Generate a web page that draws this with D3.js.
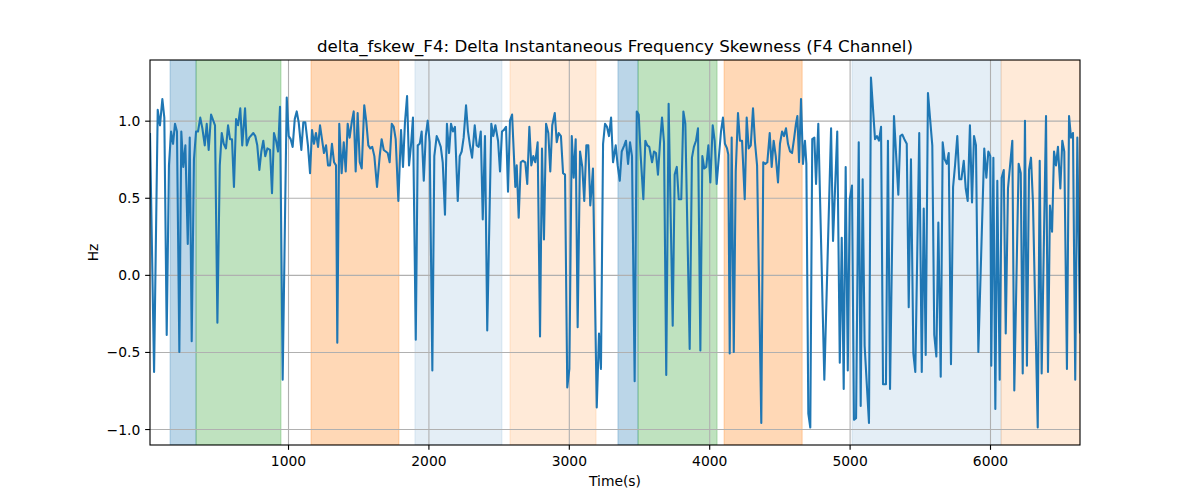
<!DOCTYPE html>
<html>
<head>
<meta charset="utf-8">
<script src="https://cdn.jsdelivr.net/npm/d3@7"></script>
<style>
  html, body { margin: 0; padding: 0; background: #ffffff; }
  svg { display: block; }
  text { font-family: "DejaVu Sans", sans-serif; fill: #000; }
</style>
</head>
<body>
<div id="chart"></div>
<script>
// ---------------- DATA ----------------
const titleText = "delta_fskew_F4: Delta Instantaneous Frequency Skewness (F4 Channel)";
const xLabelText = "Time(s)";
const yLabelText = "Hz";

const xTickValues = [1000, 2000, 3000, 4000, 5000, 6000];
const yTickValues = [-1.0, -0.5, 0.0, 0.5, 1.0];

// shaded time segments
const spanStarts = [160, 345, 1164, 1904, 2581, 3350, 3493, 4106, 5017, 6079];
const spanEnds   = [345, 950, 1790, 2524, 3194, 3493, 4056, 4662, 6079, 6641];
const spanKinds  = ["A", "B", "C", "D", "E", "A", "B", "C", "D", "E"];

// series: time (s)
const times = [
  17, 46, 72, 88, 105, 119, 136, 152, 167, 181, 195, 209, 226, 240, 254, 269, 286, 300, 314, 330,
  345, 359, 375, 390, 407, 421, 435, 452, 480, 497, 514, 528, 542, 558, 573, 587, 601, 615, 630, 644,
  660, 674,
  694, 706, 724, 753, 767, 781, 796, 810, 824, 838, 853, 872, 886, 900, 915, 929, 943, 962, 991, 1005,
  1019, 1033, 1048, 1062, 1076, 1095, 1109, 1123, 1142, 1157, 1171, 1185, 1199, 1214, 1228, 1242, 1256, 1271,
  1285, 1299, 1313, 1328, 1342, 1351, 1365,
  1382, 1397, 1411, 1425, 1439, 1454, 1468, 1482, 1496, 1511, 1525, 1543, 1558, 1572, 1586, 1600, 1615, 1634,
  1653, 1667, 1682, 1696, 1710, 1724, 1739, 1753, 1767, 1786, 1805, 1819, 1833, 1848, 1862, 1876, 1890, 1910,
  1924, 1938, 1952, 1967, 1981, 1995, 2009, 2028, 2042,
  2059, 2073, 2088, 2102, 2118, 2132, 2147, 2161, 2175, 2189, 2209, 2223, 2237, 2251, 2268, 2282, 2296, 2311,
  2330, 2344, 2358, 2373, 2387, 2403, 2419, 2448, 2462, 2477, 2496, 2510, 2524, 2538, 2553, 2567, 2581, 2596,
  2619, 2629, 2643, 2658, 2672, 2690, 2704, 2719,
  2733, 2747, 2761, 2778, 2795, 2809, 2823, 2838, 2854, 2868, 2882, 2900, 2914, 2928, 2944, 2959, 2973, 2989,
  3004, 3021, 3035, 3049, 3063, 3080, 3096, 3110, 3125, 3139, 3153, 3163, 3172, 3199, 3215, 3229, 3244, 3258,
  3272, 3286, 3301, 3315, 3334, 3348, 3363, 3377, 3395,
  3407, 3422, 3436, 3450, 3469, 3484, 3498, 3512, 3531, 3545, 3559, 3573, 3593, 3607, 3621, 3635, 3650, 3664,
  3678, 3694, 3711, 3740, 3754, 3769, 3783, 3801, 3816, 3830, 3861, 3877, 3891, 3906, 3920, 3937, 3951, 3965,
  3979, 3994, 4008, 4025, 4039, 4053, 4072,
  4084, 4098, 4112, 4127, 4136, 4146, 4160, 4175, 4189, 4205, 4219, 4234, 4253, 4267, 4281, 4296, 4312, 4326,
  4341, 4371, 4385, 4400, 4414, 4431, 4445, 4459, 4474, 4490, 4504, 4519, 4533, 4547, 4561, 4576, 4590, 4604,
  4618, 4628, 4640, 4654, 4668, 4682, 4692, 4706, 4720, 4734, 4749,
  4761, 4777, 4820, 4868, 4882, 4912, 4930, 4944, 4958, 4972, 4987, 5001, 5017, 5031, 5046, 5065, 5079, 5093,
  5107, 5138, 5152, 5181, 5195, 5209, 5224, 5238, 5259, 5273, 5288, 5316, 5347, 5361, 5375, 5390, 5407, 5421,
  5437, 5454, 5468, 5496, 5514, 5528, 5542, 5558, 5589, 5603, 5618, 5632, 5649, 5663, 5677, 5692, 5706, 5722,
  5737, 5751, 5767, 5781, 5796, 5813, 5827, 5841, 5857, 5872, 5886, 5900, 5917, 5959, 5974, 5988, 6002, 6009,
  6024, 6038, 6052, 6069, 6083, 6098,
  6112, 6128, 6159, 6173, 6204, 6219, 6233, 6249, 6263, 6278, 6292, 6306, 6340, 6354, 6368, 6399, 6413, 6427,
  6442, 6456, 6470, 6484, 6501, 6515, 6529, 6548, 6563, 6577, 6591, 6607, 6622, 6641
];

// series: delta frequency skewness (Hz)
const values = [
  0.92, -0.63, 1.07, 0.97, 1.14, 1.02, -0.39, 0.71, 0.93, 0.85, 0.98, 0.93, -0.50, 0.93, 0.70, 0.84, 0.20, 0.89, -0.43, 0.75,
  0.93, 0.93, 1.02, 0.95, 0.84, 0.98, 0.81, 1.04, 0.97, -0.31, 0.71, 0.92, 0.85, 0.82, 0.97, 0.88, 0.88, 0.57, 1.01, 0.97,
  1.08, 0.84,
  1.08, 0.84, 0.89, 0.92, 0.90, 0.84, 0.68, 0.80, 0.87, 0.77, 0.82, 0.81, 0.53, 0.92, 0.87, 0.80, 1.09, -0.68, 1.15, 0.90,
  0.88, 0.83, 1.01, 1.06, 0.99, 0.81, 0.99, 0.99, 0.84, 0.66, 0.94, 0.85, 0.92, 0.83, 0.97, 0.88, 0.79, 0.84,
  0.71, 0.71, 0.85, 0.73, 0.71, -0.44, 0.98,
  0.66, 0.86, 0.67, 0.98, 0.89, 0.99, 1.06, 0.67, 1.05, 0.73, 0.69, 1.10, 0.99, 0.84, 0.82, 0.83, 0.77, 0.57,
  0.77, 0.88, 0.81, 0.80, 0.79, 0.73, 0.98, 0.96, 0.88, 0.48, 0.94, 0.70, 0.99, 1.16, 0.71, 0.84, 1.02, -0.42,
  0.84, 0.85, 0.93, 0.61, 0.90, 1.00, 0.86, -0.62, 0.77,
  0.90, 0.87, 0.83, 0.73, 0.39, 0.98, 0.79, 0.98, 0.93, 0.96, 0.48, 0.77, 0.80, 0.89, 1.10, 0.93, 0.84, 0.76,
  0.97, 0.84, 0.83, 0.93, 0.36, 0.90, -0.36, 0.98, 0.90, 0.97, 0.87, 0.67, 0.93, 0.94, 0.96, 0.54, 1.00, 1.04,
  0.57, 0.71, 0.37, 0.73, 0.74, 0.73, 0.59, 0.96,
  0.71, 0.77, 0.73, 0.86, -0.40, 0.82, 0.23, 0.98, 0.92, 0.67, 0.97, 1.05, 0.86, 0.92, 0.90, 0.66, 0.65, -0.73,
  -0.61, 0.90, 0.63, 0.88, -0.34, 0.80, 0.70, 0.48, 0.84, 0.84, 0.45, 0.57, 0.69, -0.86, -0.38, -0.61, 0.85, 0.98,
  0.96, 0.90, 1.02, 0.73, 0.84, 0.71, 0.61, 0.80, 0.84,
  0.87, 0.72, 0.86, 0.77, -0.69, 1.06, 1.04, 0.77, 0.49, 0.87, 0.84, 0.83, 0.73, 0.80, 0.79, 0.65, 0.86, 1.02,
  0.86, -0.65, 1.11, -0.33, 0.65, 0.70, 0.49, 0.49, 1.06, 0.98, -0.48, 0.76, 0.83, 0.87, 0.95, -0.49, 0.77, 0.69,
  0.70, 0.84, 0.60, 0.97, 0.87, 0.59, 0.80,
  0.93, 1.02, 0.85, 0.82, 0.78, -0.51, 0.89, -0.50, 0.67, 1.05, 0.87, 0.87, 0.49, 1.02, 0.82, 0.84, 1.08, 0.86,
  0.71, -0.96, 0.73, 0.72, 0.73, 0.92, 0.70, 0.87, 0.77, 0.60, 0.85, 0.93, 0.90, 0.95, 0.85, 0.80, 0.79, 0.88,
  0.98, 1.03, 0.73, 1.14, 0.72, 0.87, 0.72, -0.90, -0.99, 0.88, 0.89,
  0.59, 0.98, -0.68, 0.95, 0.22, 0.93, -0.57, 0.24, -0.74, 0.70, -0.62, 0.49, 0.58, -0.94, -0.93, 0.86, -0.85, 0.62,
  -0.46, -0.96, 1.28, 0.88, 0.90, 0.87, 0.96, -0.71, -0.71, 0.87, -0.74, 1.03, 0.52, 0.90, 0.91, 0.88, 0.85, -0.21,
  0.75, -0.51, -0.63, 0.92, -0.63, 0.43, -0.52, 1.18, 0.84, -0.39, -0.53, 0.34, -0.66, 0.86, 0.75, 0.72, 0.79, -0.58,
  0.57, 0.71, 0.90, 0.62, 0.62, 0.74, 0.56, 0.48, 0.97, 0.47, 0.90, 0.84, -0.50, 0.82, 0.63, 0.80, 0.77, -0.59,
  0.76, -0.87, 0.61, -0.68, 0.63, 0.68,
  -0.38, 0.56, 0.87, -0.75, 0.72, 0.66, -0.64, 1.00, -0.59, 0.68, 0.76, 0.47, -0.99, 0.74, -0.64, 1.03, -0.63, 0.45,
  0.28, 0.80, 0.71, 0.83, 0.56, 0.87, 0.80, -0.61, 1.03, 0.89, 0.92, -0.68, 0.89, -0.38
];

// ---------------- CHART ----------------
const W = 1200, H = 500;
const plot = { left: 150, right: 1080, top: 60, bottom: 445 };
const pt = 100 / 72; // matplotlib points -> px at dpi 100

const spanStyle = {
  A: { color: "#1f77b4", opacity: 0.3 },
  B: { color: "#2ca02c", opacity: 0.3 },
  C: { color: "#ff7f0e", opacity: 0.3 },
  D: { color: "#1f77b4", opacity: 0.12 },
  E: { color: "#ff7f0e", opacity: 0.16 }
};

const data = times.map((t, i) => ({ t, v: values[i] }));
const spans = spanStarts.map((s, i) => ({ s, e: spanEnds[i], k: spanKinds[i] }));

const x = d3.scaleLinear().domain(d3.extent(times)).range([plot.left, plot.right]);
const [vmin, vmax] = d3.extent(values);
const pad = (vmax - vmin) * 0.05;
const y = d3.scaleLinear().domain([vmin - pad, vmax + pad]).range([plot.bottom, plot.top]);

const svg = d3.select("#chart").append("svg")
  .attr("width", W).attr("height", H)
  .attr("viewBox", `0 0 ${W} ${H}`);

svg.append("rect").attr("width", W).attr("height", H).attr("fill", "#fff");

svg.append("clipPath").attr("id", "clip")
  .append("rect")
  .attr("x", plot.left).attr("y", plot.top)
  .attr("width", plot.right - plot.left).attr("height", plot.bottom - plot.top);

const inner = svg.append("g").attr("clip-path", "url(#clip)");

// spans
inner.selectAll("rect.span").data(spans).join("rect")
  .attr("class", "span")
  .attr("x", d => x(d.s))
  .attr("width", d => x(d.e) - x(d.s))
  .attr("y", plot.top)
  .attr("height", plot.bottom - plot.top)
  .attr("fill", d => spanStyle[d.k].color)
  .attr("fill-opacity", d => spanStyle[d.k].opacity)
  .attr("stroke", d => spanStyle[d.k].color)
  .attr("stroke-opacity", d => spanStyle[d.k].opacity)
  .attr("stroke-width", 1);

// grid
const xGrid = d3.axisBottom(x).tickValues(xTickValues).tickSize(-(plot.bottom - plot.top)).tickFormat("");
const yGrid = d3.axisLeft(y).tickValues(yTickValues).tickSize(-(plot.right - plot.left)).tickFormat("");
const gx = inner.append("g").attr("transform", `translate(0,${plot.bottom})`).call(xGrid);
const gy = inner.append("g").attr("transform", `translate(${plot.left},0)`).call(yGrid);
[gx, gy].forEach(g => {
  g.select(".domain").remove();
  g.selectAll("line").attr("stroke", "#b0b0b0").attr("stroke-width", 0.8 * pt);
});

// line
const line = d3.line().x(d => x(d.t)).y(d => y(d.v));
inner.append("path").datum(data)
  .attr("d", line)
  .attr("fill", "none")
  .attr("stroke", "#1f77b4")
  .attr("stroke-width", 1.5 * pt)
  .attr("stroke-linejoin", "round")
  .attr("stroke-linecap", "butt");

// frame
svg.append("rect")
  .attr("x", plot.left).attr("y", plot.top)
  .attr("width", plot.right - plot.left).attr("height", plot.bottom - plot.top)
  .attr("fill", "none").attr("stroke", "#000").attr("stroke-width", 0.8 * pt);

// axes (ticks + labels)
const fmtY = d3.format(".1f");
const xAxis = d3.axisBottom(x).tickValues(xTickValues).tickSize(3.5 * pt).tickPadding(3.5 * pt).tickFormat(d3.format("d"));
const yAxis = d3.axisLeft(y).tickValues(yTickValues).tickSize(3.5 * pt).tickPadding(3.5 * pt).tickFormat(fmtY);

const ax = svg.append("g").attr("transform", `translate(0,${plot.bottom})`).call(xAxis);
const ay = svg.append("g").attr("transform", `translate(${plot.left},0)`).call(yAxis);
[ax, ay].forEach(g => {
  g.select(".domain").remove();
  g.selectAll(".tick line").attr("stroke", "#000").attr("stroke-width", 0.8 * pt);
  g.selectAll(".tick text")
    .attr("font-family", "DejaVu Sans, sans-serif")
    .attr("font-size", 10 * pt)
    .attr("fill", "#000");
});
ax.selectAll(".tick text").attr("dy", null).attr("y", 21);
ay.selectAll(".tick text").attr("dy", "0.36em");

// title & labels
svg.append("text")
  .attr("x", (plot.left + plot.right) / 2).attr("y", 52)
  .attr("text-anchor", "middle")
  .attr("font-size", 12 * pt)
  .text(titleText);

svg.append("text")
  .attr("x", (plot.left + plot.right) / 2).attr("y", 486)
  .attr("text-anchor", "middle")
  .attr("font-size", 10 * pt)
  .text(xLabelText);

svg.append("text")
  .attr("transform", `translate(98,${(plot.top + plot.bottom) / 2}) rotate(-90)`)
  .attr("text-anchor", "middle")
  .attr("font-size", 10 * pt)
  .text(yLabelText);
</script>
</body>
</html>
